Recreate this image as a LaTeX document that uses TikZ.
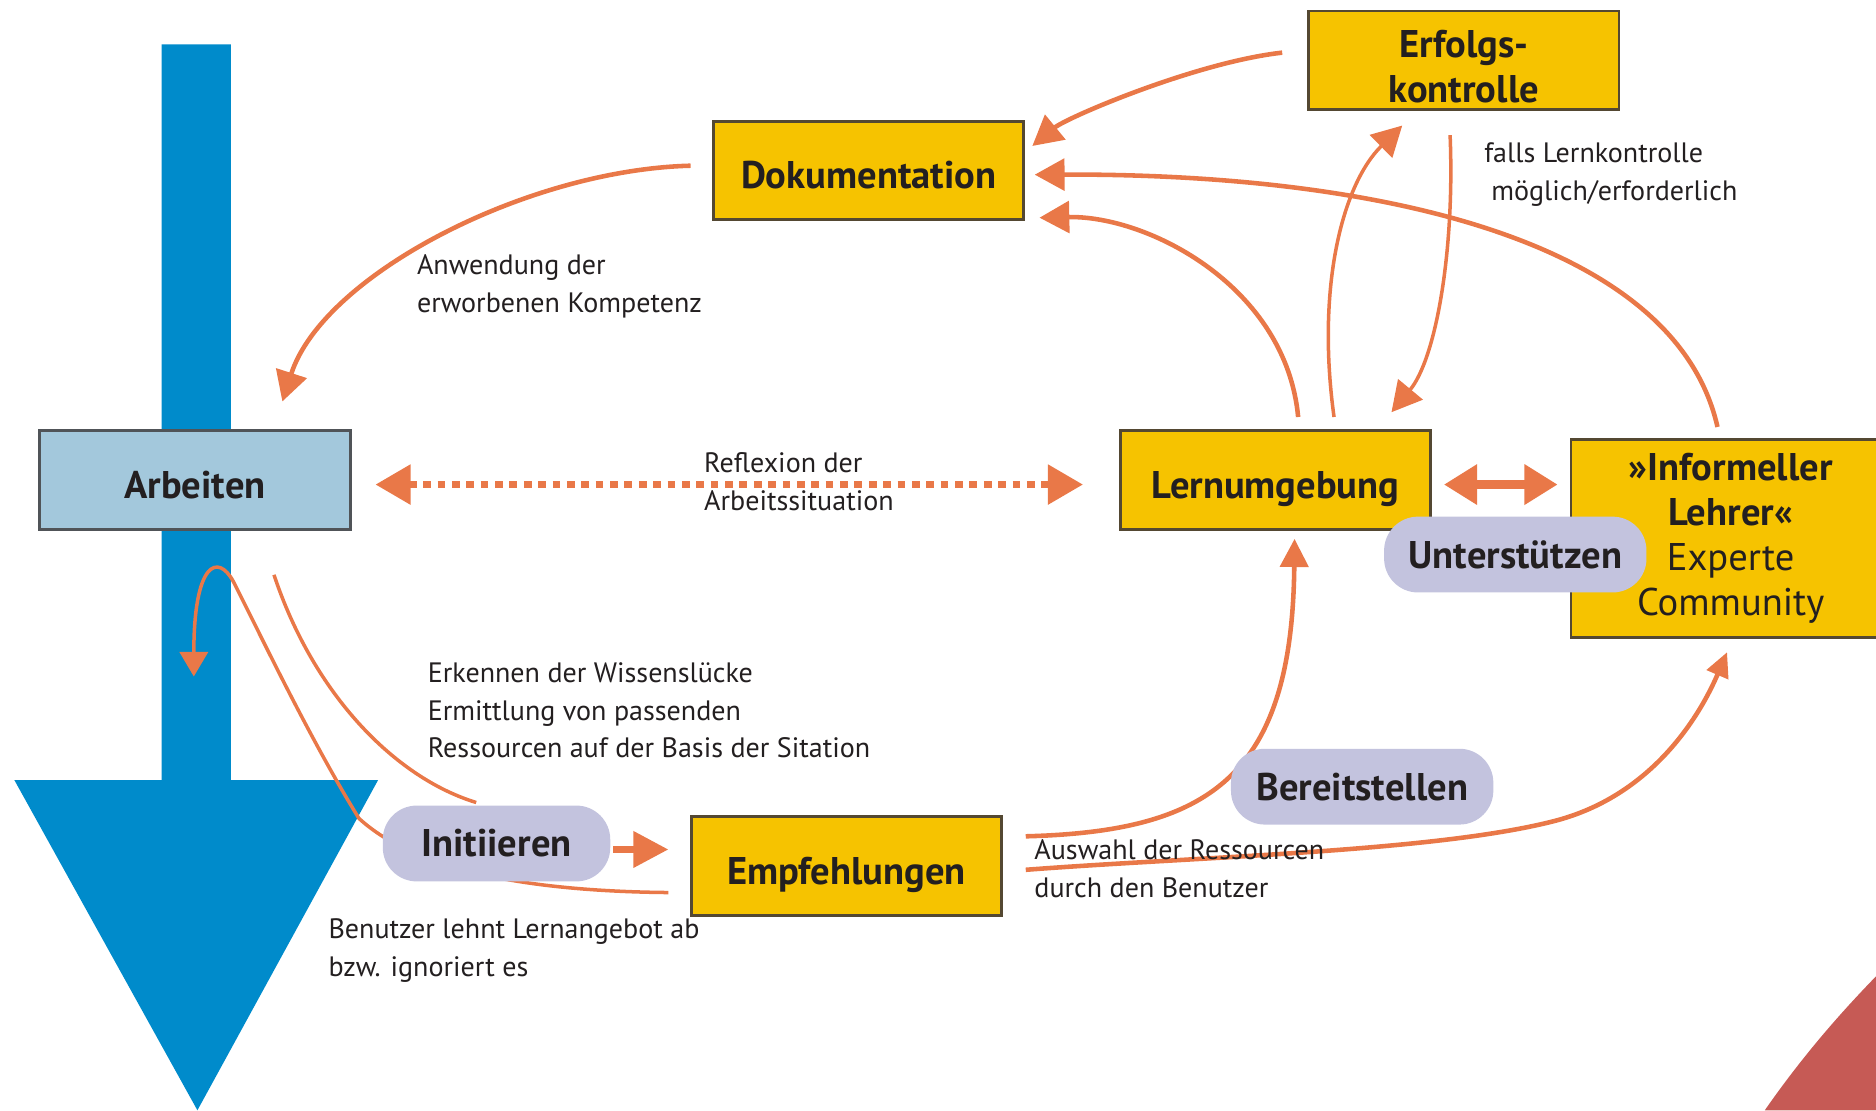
\documentclass[tikz,border=0pt]{standalone}
\usepackage{fontspec}
\setmainfont{PT Sans}
\usetikzlibrary{arrows.meta,backgrounds}

\definecolor{pfeil}{RGB}{233,120,72}
\definecolor{gelb}{RGB}{246,195,0}
\definecolor{rahmen}{RGB}{84,72,50}
\definecolor{hellblau}{RGB}{163,200,220}
\definecolor{grau}{RGB}{80,84,88}
\definecolor{blau}{RGB}{0,139,203}
\definecolor{lila}{RGB}{195,195,222}
\definecolor{rot}{RGB}{198,90,85}
\definecolor{schrift}{RGB}{35,31,32}

\begin{document}
\begin{tikzpicture}[x=0.012cm,y=-0.012cm,
  kasten/.style={draw=rahmen,line width=0.8pt,fill=gelb,text=schrift,inner sep=0pt,
    minimum width=3.11cm,minimum height=0.99cm,font=\bfseries\fontsize{11}{12.8}\selectfont},
  einzeilig/.style={text height=10.5pt,text depth=0pt},
  pille/.style={fill=lila,rounded corners=0.34cm,text=schrift,inner sep=0pt,
    minimum width=2.63cm,minimum height=0.76cm,font=\bfseries\fontsize{11}{12.8}\selectfont},
  notiz/.style={anchor=north west,align=left,inner sep=0pt,text=schrift,
    font=\fontsize{8}{10.8}\selectfont},
  bogen/.style={draw=pfeil,line width=1.3pt},
  duenn/.style={draw=pfeil,line width=1pt},
  spitze/.style={-{Triangle[length=8.5pt,width=9pt]}}]
\useasboundingbox (0,0) rectangle (1568,928);
\clip (0,0) rectangle (1568,928);
% ---- Kaesten ----
\node[kasten,einzeilig,fill=hellblau,draw=grau] (arbeiten) at (163,401) {Arbeiten};
\node[kasten,einzeilig] (doku) at (726,142.5) {Dokumentation};
\node[kasten,align=center,text height=24pt,text depth=0pt] (erfolg) at (1223.5,50.5) {Erfolgs-\\kontrolle};
\node[kasten,einzeilig] (lern) at (1066,401) {Lernumgebung};
\node[kasten,minimum width=3.2cm,minimum height=1.99cm,align=center,
  font=\fontsize{11}{12.8}\selectfont] (lehrer) at (1446.5,450)
  {\textbf{»Informeller}\\\textbf{Lehrer«}\\Experte\\Community};
\node[kasten,einzeilig] (empf) at (707.5,724) {Empfehlungen};
% ---- Pillen ----
\node[pille,minimum width=2.28cm] (initi) at (415,705) {Initiieren};
\node[pille] (unter) at (1266.5,463.5) {Unterstützen};
\node[pille] (bereit) at (1138.5,657.5) {Bereitstellen};
% ---- Notizen ----
\node[notiz] (anwendung) at (348,212) {Anwendung der\\erworbenen Kompetenz};
\node[notiz] (falls) at (1240,119) {falls Lernkontrolle\\\hspace*{2pt}möglich/erforderlich};
\node[notiz] (reflexion) at (588,378) {Reflexion der\\Arbeitssituation};
\node[notiz] (erkennen) at (357,553) {Erkennen der Wissenslücke\\Ermittlung von passenden\\Ressourcen auf der Basis der Sitation};
\node[notiz] (benutzer) at (274,767) {Benutzer lehnt Lernangebot ab\\bzw. ignoriert es};
\node[notiz] (auswahl) at (864,701) {Auswahl der Ressourcen\\durch den Benutzer};

\begin{scope}[on background layer]
% ---- blauer Pfeil und rote Ecke ----
\fill[blau] (135,37) -- (193,37) -- (193,652) -- (316,652) -- (165,928) -- (12,652) -- (135,652) -- cycle;
\fill[rot] (1475,928) .. controls (1505,885) and (1535,850) .. (1568,816) -- (1568,928) -- cycle;
% ---- obere Boegen ----
\draw[bogen,spitze] ([shift={(-18,-4)}]doku.west) .. controls (440,142) and (270,230) .. ([shift={(73,-23)}]arbeiten.north);
\draw[bogen,spitze] ([shift={(-21,-6.5)}]erfolg.west) .. controls (1000,52) and (892,98) .. ([shift={(6,-20.5)}]doku.east);
\draw[bogen,spitze] ([shift={(-11,-9)}]lehrer.north) .. controls (1400,200) and (1150,145) .. ([shift={(8,3.5)}]doku.east);
\draw[bogen,spitze] ([shift={(19,-10)}]lern.north) .. controls (1075,240) and (960,180) .. ([shift={(12,-3)}]doku.south east);
\draw[duenn,spitze] ([shift={(49,-10)}]lern.north) .. controls (1100,240) and (1122,154) .. ([shift={(-51.5,12)}]erfolg.south);
\draw[duenn,spitze] ([shift={(-11.5,20)}]erfolg.south) .. controls (1216,210) and (1200,300) .. ([shift={(97,-14)}]lern.north);
% ---- waagrechte Pfeile ----
\draw[pfeil,line width=2pt,dash pattern=on 2.2pt off 1.9pt,
  {Triangle[length=10pt,width=11pt]}-{Triangle[length=10pt,width=11pt]}]
  ([shift={(20,4)}]arbeiten.east) -- ([shift={(-30,4)}]lern.west);
\draw[pfeil,line width=2.4pt,{Triangle[length=9.5pt,width=11pt]}-{Triangle[length=9.5pt,width=11pt]}]
  ([shift={(10,4)}]lern.east) -- ([shift={(-10,-45)}]lehrer.west);
\draw[pfeil,line width=2pt,-{Triangle[length=10pt,width=10pt]}]
  ([shift={(2,5)}]initi.east) -- ([shift={(-18,-14)}]empf.west);
% ---- untere Boegen ----
\draw[duenn] ([shift={(66,37)}]arbeiten.south) .. controls (262,580) and (330,650) .. ([shift={(-17,-2)}]initi.north);
\draw[duenn,-{Triangle[length=7pt,width=8pt]}] ([shift={(-18,22)}]empf.west)
  .. controls (450,745) and (350,730) .. (300,684)
  .. controls (258,616) and (215,525) .. (195,486)
  .. controls (182,462) and (162,470) .. ([shift={(-1,122)}]arbeiten.south);
\draw[bogen,-{Triangle[length=8pt,width=8pt]}] ([shift={(19,-25)}]empf.east) .. controls (1010,695) and (1080,650) .. ([shift={(16,7)}]lern.south);
\draw[bogen,-{Triangle[length=7pt,width=6.5pt]}] ([shift={(19,3)}]empf.east)
  .. controls (1000,716) and (1200,712) .. (1300,686)
  .. controls (1380,665) and (1420,600) .. ([shift={(-3,11)}]lehrer.south);
\end{scope}
\end{tikzpicture}
\end{document}
